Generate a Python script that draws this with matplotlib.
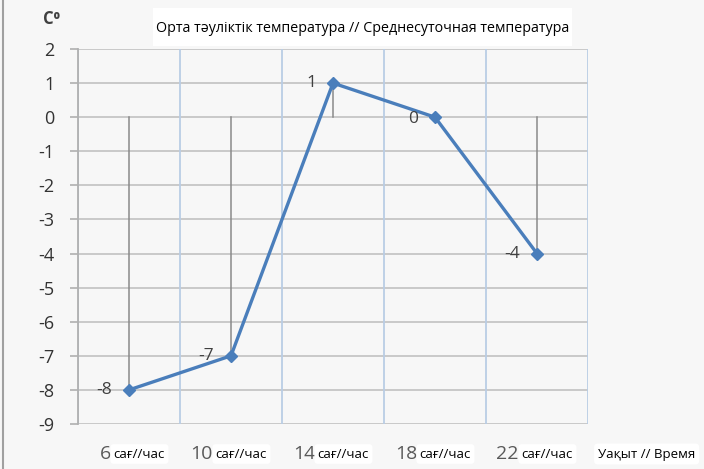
import matplotlib
matplotlib.use("Agg")
import matplotlib.pyplot as plt
import matplotlib.transforms as mtransforms
from matplotlib.patches import Rectangle

# ---- data ----
hours = ["6", "10", "14", "18", "22"]
hour_suffix = "сағ//час"
temps = [-8, -7, 1, 0, -4]
yticks = list(range(2, -10, -1))
title = "Орта тәуліктік температура // Среднесуточная температура"
ylabel = "C⁰"
xlabel = "Уақыт // Время"

plt.rcParams['font.family'] = ['Open Sans', 'DejaVu Sans']

W, H = 704, 469
fig = plt.figure(figsize=(W / 100, H / 100), dpi=100)
bg = "#f7f7f7"
fig.patch.set_facecolor(bg)

ax = fig.add_axes([78 / W, 1 - 424 / H, (588 - 78) / W, (424 - 49) / H])
ax.set_facecolor(bg)
x = list(range(len(temps)))
ax.set_xlim(-0.5, len(temps) - 0.5)
ax.set_ylim(-9, 2)

# grid
for yv in yticks:
    ax.axhline(yv, color="#c6c6c6", lw=1.3, zorder=1)
for b in [i + 0.5 for i in range(-1, len(temps))]:
    ax.axvline(b, color="#b9cde5", lw=1.3, zorder=1)

# drop lines from 0
for xi, t in zip(x, temps):
    ax.plot([xi, xi], [0, t], color="#8a8a8a", lw=1.1, zorder=2)

ax.plot(x, temps, color="#4a7ebb", lw=2.4, marker="D", markersize=6,
        markerfacecolor="#4a7ebb", markeredgecolor="#4a7ebb", zorder=3)

# data labels
for xi, t in zip(x, temps):
    dy = -1.5 if t == 0 else 0
    ax.annotate(str(t), (xi, t), xytext=(-12, dy), textcoords="offset points",
                ha="right", va="center", fontsize=12.5, color="#404040", zorder=4)

for s in ["top", "right", "bottom"]:
    ax.spines[s].set_visible(False)
ax.spines["left"].set_color("#b0b0b0")
ax.spines["left"].set_linewidth(1.3)
ax.set_yticks(yticks)
ax.set_yticklabels([str(v) for v in yticks])
ax.tick_params(axis="y", length=6, width=1.2, color="#b0b0b0", pad=11,
               labelsize=13, labelcolor="#333333")
ax.set_xticks([])

# x category labels
trans = mtransforms.blended_transform_factory(ax.transData, fig.transFigure)
ylab = 1 - 454 / H
for xi, h in zip(x, hours):
    ax.annotate(h, (xi, ylab), xycoords=trans, xytext=(-13, 0),
                textcoords="offset points", ha="right", va="center",
                fontsize=14, color="#595959", annotation_clip=False)
    ax.annotate(hour_suffix, (xi, ylab), xycoords=trans, xytext=(-11, 0),
                textcoords="offset points", ha="left", va="center",
                fontsize=9.5, color="black", annotation_clip=False,
                bbox=dict(boxstyle="round,pad=0.25", fc="white", ec="none"))

fig.text(598 / W, ylab, xlabel, ha="left", va="center", fontsize=9.5,
         color="black",
         bbox=dict(boxstyle="round,pad=0.3", fc="white", ec="none"))

# title with white box
fig.add_artist(Rectangle((153 / W, 1 - 46 / H), (572 - 153) / W, 38 / H,
                         transform=fig.transFigure, fc="white", ec="none"))
fig.text(156 / W, 1 - 28 / H, title, ha="left", va="center", fontsize=10.3,
         color="black")

fig.text(52 / W, 1 - 19 / H, ylabel, ha="center", va="center", fontsize=12,
         fontweight="bold", color="#404040")

# left border line
fig.add_artist(plt.Line2D([3 / W, 3 / W], [0, 1], transform=fig.transFigure,
                          color="#a0a0a0", lw=1.5))

fig.savefig("out.png", dpi=100, facecolor=bg)
